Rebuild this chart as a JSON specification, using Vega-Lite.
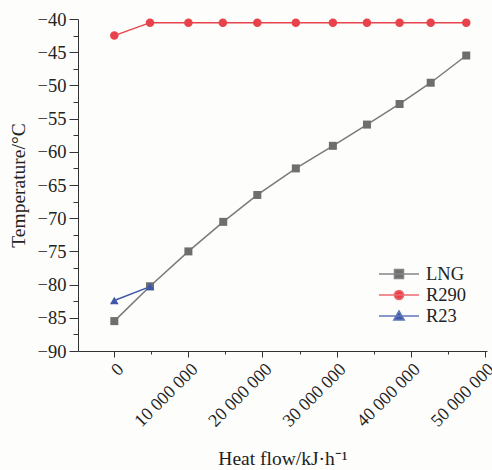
{
  "$schema": "https://vega.github.io/schema/vega-lite/v6.json",
  "width": 409,
  "height": 332,
  "autosize": "none",
  "padding": {"left": 78, "top": 19, "right": 5, "bottom": 119},
  "background": "#fdfdfc",
  "config": {
    "view": {"stroke": null},
    "font": "Liberation Serif",
    "axis": {"labelFont": "Liberation Serif", "titleFont": "Liberation Serif", "domainColor": "#333", "tickColor": "#333", "labelColor": "#222", "titleColor": "#222", "grid": false, "titleFontWeight": "normal"},
    "legend": {
      "orient": "none",
      "legendX": 310,
      "legendY": 244,
      "padding": 0,
      "symbolSize": 400,
      "symbolStrokeWidth": 1.5,
      "symbolOpacity": 1,
      "labelOffset": 16,
      "labelFontSize": 18.5,
      "labelFont": "Liberation Serif",
      "labelColor": "#222",
      "rowPadding": 0
    }
  },
  "data": {"values": [
    {"series": "LNG", "x": 0, "y": -85.5},
    {"series": "LNG", "x": 4820000, "y": -80.25},
    {"series": "LNG", "x": 10000000, "y": -75.0},
    {"series": "LNG", "x": 14700000, "y": -70.55},
    {"series": "LNG", "x": 19300000, "y": -66.5},
    {"series": "LNG", "x": 24500000, "y": -62.5},
    {"series": "LNG", "x": 29500000, "y": -59.1},
    {"series": "LNG", "x": 34100000, "y": -55.9},
    {"series": "LNG", "x": 38500000, "y": -52.8},
    {"series": "LNG", "x": 42700000, "y": -49.6},
    {"series": "LNG", "x": 47500000, "y": -45.5},
    {"series": "R290", "x": 0, "y": -42.5},
    {"series": "R290", "x": 4820000, "y": -40.55},
    {"series": "R290", "x": 10000000, "y": -40.55},
    {"series": "R290", "x": 14650000, "y": -40.55},
    {"series": "R290", "x": 19300000, "y": -40.55},
    {"series": "R290", "x": 24500000, "y": -40.55},
    {"series": "R290", "x": 29500000, "y": -40.55},
    {"series": "R290", "x": 34100000, "y": -40.55},
    {"series": "R290", "x": 38500000, "y": -40.55},
    {"series": "R290", "x": 42700000, "y": -40.55},
    {"series": "R290", "x": 47500000, "y": -40.55},
    {"series": "R23", "x": 0, "y": -82.4},
    {"series": "R23", "x": 4820000, "y": -80.3}
  ]},
  "encoding": {
    "x": {
      "field": "x", "type": "quantitative",
      "scale": {"domain": [-4900000, 50300000], "nice": false, "zero": false},
      "axis": {
        "title": "Heat flow/kJ·h⁻¹",
        "titleFontSize": 19.5,
        "titlePadding": 19,
        "values": [0, 5000000, 10000000, 15000000, 20000000, 25000000, 30000000, 35000000, 40000000, 45000000, 50000000],
        "labelExpr": "datum.value % 10000000 === 0 ? replace(format(datum.value, ','), regexp(',', 'g'), ' ') : ''",
        "labelAngle": -45,
        "labelFontSize": 18,
        "labelPadding": 3,
        "tickSize": {"condition": {"test": "datum.value % 10000000 === 0", "value": 6}, "value": 3},
        "labelFlush": false,
        "labelOverlap": false
      }
    },
    "y": {
      "field": "y", "type": "quantitative",
      "scale": {"domain": [-90, -40], "nice": false, "zero": false},
      "axis": {
        "title": "Temperature/°C",
        "titleFontSize": 19.5,
        "titlePadding": 9,
        "values": [-90, -87.5, -85, -82.5, -80, -77.5, -75, -72.5, -70, -67.5, -65, -62.5, -60, -57.5, -55, -52.5, -50, -47.5, -45, -42.5, -40],
        "labelExpr": "datum.value % 5 === 0 ? format(datum.value, 'd') : ''",
        "labelFontSize": 18.5,
        "labelPadding": 3,
        "tickSize": {"condition": {"test": "datum.value % 5 === 0", "value": 9}, "value": 5},
        "labelFlush": false,
        "labelOverlap": false
      }
    }
  },
  "layer": [
    {
      "transform": [{"filter": "datum.series === 'LNG'"}],
      "mark": {"type": "line", "strokeWidth": 1.5, "color": "#7a7a7a"}
    },
    {
      "transform": [{"filter": "datum.series === 'R290'"}],
      "mark": {"type": "line", "strokeWidth": 1.5, "color": "#e8434b"}
    },
    {
      "transform": [{"filter": "datum.series === 'R23'"}],
      "mark": {"type": "line", "strokeWidth": 1.5, "color": "#3e57a8"}
    },
    {
      "transform": [{"filter": "datum.series === 'LNG'"}],
      "mark": {"type": "point", "filled": true, "opacity": 1, "shape": "square", "size": 64, "color": "#6e6e6e"}
    },
    {
      "transform": [{"filter": "datum.series === 'R290'"}],
      "mark": {"type": "point", "filled": true, "opacity": 1, "shape": "circle", "size": 72, "color": "#e8434b"}
    },
    {
      "transform": [{"filter": "datum.series === 'R23'"}],
      "mark": {"type": "point", "filled": true, "opacity": 1, "shape": "triangle-up", "size": 75, "color": "#3e57a8"}
    },
    {
      "mark": {"type": "point", "filled": true, "opacity": 0},
      "encoding": {
        "fill": {"field": "series", "type": "nominal", "legend": {"title": null},
          "scale": {"domain": ["LNG", "R290", "R23"], "range": ["#6e6e6e", "#e8434b", "#3e57a8"]}},
        "stroke": {"field": "series", "type": "nominal", "legend": {"title": null},
          "scale": {"domain": ["LNG", "R290", "R23"], "range": ["#858585", "#ec6a70", "#6177b8"]}},
        "shape": {"field": "series", "type": "nominal", "legend": {"title": null},
          "scale": {"domain": ["LNG", "R290", "R23"], "range": [
            "M-2,0L2,0M-0.45,-0.45L0.45,-0.45L0.45,0.45L-0.45,0.45Z",
            "M-2,0L2,0M-0.46,0A0.46,0.46,0,1,0,0.46,0A0.46,0.46,0,1,0,-0.46,0Z",
            "M-2,0L2,0M0,-0.5L0.52,0.4L-0.52,0.4Z"
          ]}
        }
      }
    }
  ]
}
